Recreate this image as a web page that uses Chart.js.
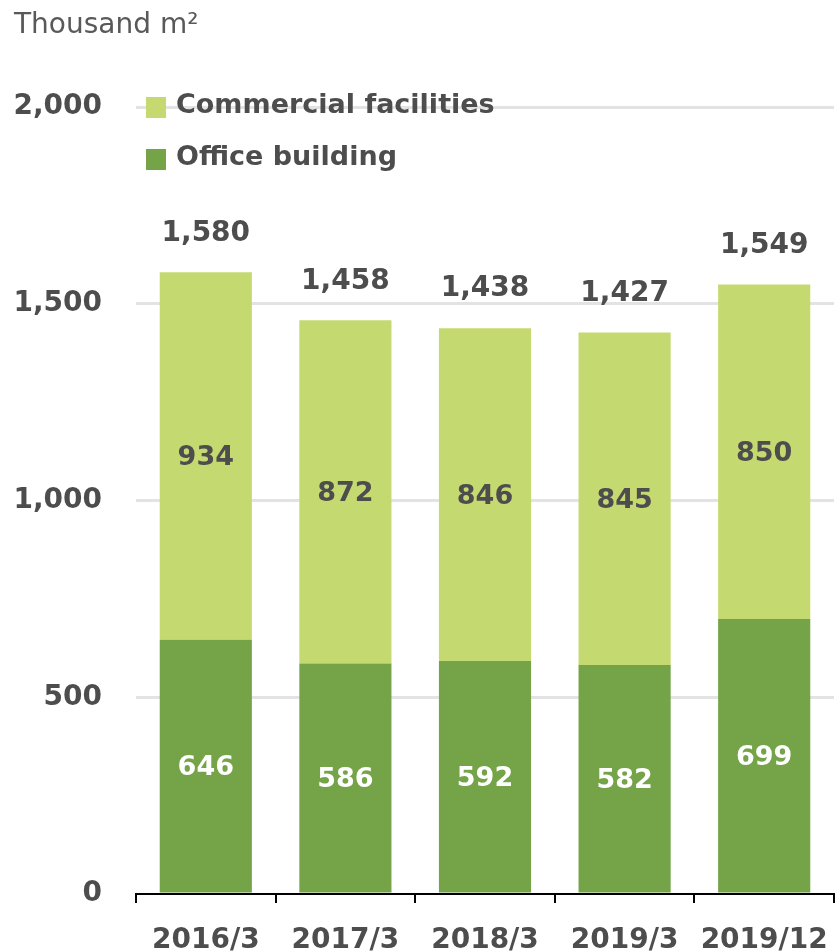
<!DOCTYPE html>
<html>
<head>
<meta charset="utf-8">
<script src="https://cdn.jsdelivr.net/npm/chart.js@4"></script>
<style>
  html, body { margin: 0; padding: 0; background: #fff; }
  #wrap { width: 837px; height: 952px; position: relative; }
</style>
</head>
<body>
<div id="wrap"><canvas id="area-chart"></canvas></div>
<script>
const categories = ["2016/3", "2017/3", "2018/3", "2019/3", "2019/12"];
const officeValues = [646, 586, 592, 582, 699];
const commercialValues = [934, 872, 846, 845, 850];
const yTicks = [0, 500, 1000, 1500, 2000];

const textColor = "#4d4d4d";
const fontFamily = "'DejaVu Sans', Verdana, sans-serif";

const fmt = (v) => v.toLocaleString("en-US");

// legend, unit label and value labels drawn on top of the bars
const labelPlugin = {
  id: "labels",
  afterDatasetsDraw(chart) {
    const ctx = chart.ctx;
    const yScale = chart.scales.y;
    ctx.save();
    ctx.textAlign = "center";
    ctx.textBaseline = "middle";
    ctx.font = "bold 27px " + fontFamily;

    chart.data.datasets.forEach((ds, di) => {
      const meta = chart.getDatasetMeta(di);
      meta.data.forEach((bar, i) => {
        const mid = (bar.y + bar.base) / 2;
        ctx.fillStyle = di === 0 ? "#ffffff" : textColor;
        ctx.fillText(fmt(ds.data[i]), bar.x, mid + 2);
      });
    });

    ctx.font = "bold 28px " + fontFamily;
    const topMeta = chart.getDatasetMeta(1);
    categories.forEach((c, i) => {
      const total = officeValues[i] + commercialValues[i];
      const y = yScale.getPixelForValue(total) - 39;
      ctx.fillStyle = textColor;
      ctx.fillText(fmt(total), topMeta.data[i].x, y);
    });

    // legend
    const legendItems = [
      { label: "Commercial facilities", color: chart.data.datasets[1].backgroundColor, y: 106 },
      { label: "Office building", color: chart.data.datasets[0].backgroundColor, y: 158 },
    ];
    ctx.textAlign = "left";
    ctx.font = "bold 27px " + fontFamily;
    legendItems.forEach((item) => {
      ctx.fillStyle = item.color;
      ctx.fillRect(146, item.y - 9, 20, 21);
      ctx.fillStyle = textColor;
      ctx.fillText(item.label, 176, item.y);
    });

    // unit
    ctx.font = "28px " + fontFamily;
    ctx.fillStyle = "#595959";
    ctx.fillText("Thousand m²", 14, 26);
    ctx.restore();
  },
};

const chartConfig = {
  type: "bar",
  data: {
    labels: categories,
    datasets: [
      {
        label: "Office building",
        data: officeValues,
        backgroundColor: "#74a348",
      },
      {
        label: "Commercial facilities",
        data: commercialValues,
        backgroundColor: "#c5d971",
      },
    ],
  },
  options: {
    responsive: false,
    animation: false,
    devicePixelRatio: 1,
    layout: { padding: { top: 107, right: 3, left: 0, bottom: 0 } },
    datasets: {
      bar: { categoryPercentage: 1, barPercentage: 0.66 },
    },
    plugins: {
      legend: { display: false },
      tooltip: { enabled: false },
    },
    scales: {
      x: {
        stacked: true,
        border: { display: true, color: "#000", width: 2 },
        grid: {
          offset: true,
          drawOnChartArea: false,
          drawTicks: true,
          tickLength: 9,
          color: "#000",
          lineWidth: 2,
        },
        ticks: {
          color: textColor,
          font: { family: fontFamily, size: 28, weight: "bold" },
          padding: 21,
          maxRotation: 0,
          autoSkip: false,
        },
        afterFit(scale) {
          scale.height = 58;
          scale.paddingLeft = 0;
          scale.paddingRight = 0;
        },
      },
      y: {
        stacked: true,
        min: 0,
        max: 2000,
        border: { display: false },
        grid: {
          drawTicks: false,
          color: (c) => (c.tick && c.tick.value === 0 ? "rgba(0,0,0,0)" : "#e3e3e3"),
          lineWidth: 3,
        },
        afterBuildTicks(scale) {
          scale.ticks = yTicks.map((v) => ({ value: v }));
        },
        ticks: {
          color: textColor,
          font: { family: fontFamily, size: 28, weight: "bold" },
          padding: 34,
          callback: (v) => fmt(v),
        },
        afterFit(scale) {
          scale.width = 136;
        },
      },
    },
  },
  plugins: [labelPlugin],
};

const canvas = document.getElementById("area-chart");
canvas.width = 837;
canvas.height = 952;
const areaChart = new Chart(canvas.getContext("2d"), chartConfig);
</script>
</body>
</html>
